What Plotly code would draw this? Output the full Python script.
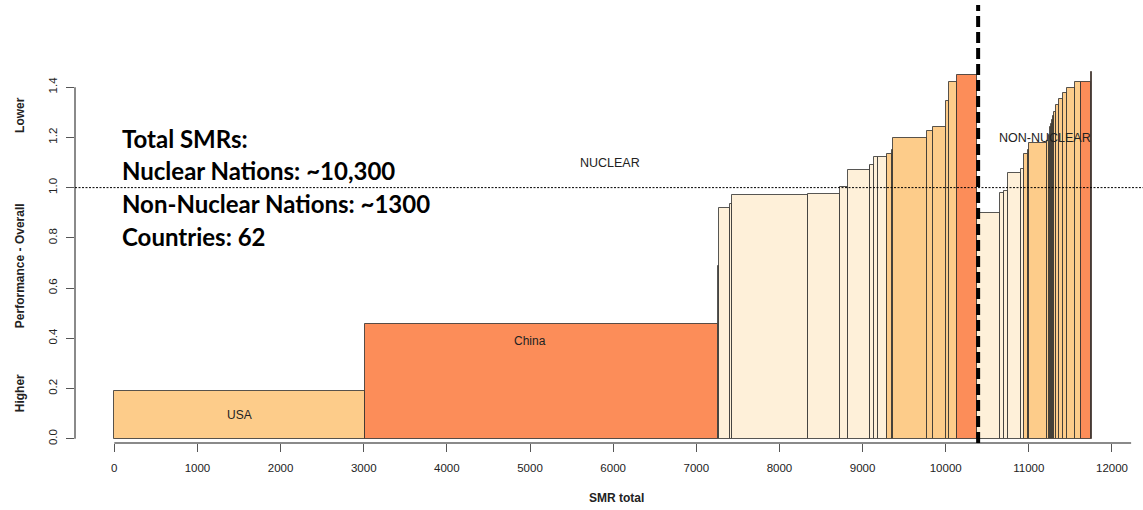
import numpy as np
import plotly.graph_objects as go

# ---------------- data ----------------
# SMR counts per country (bar widths) and overall performance (bar heights)
nuclear_smr = [3015, 4243, 12, 139, 24, 907, 389, 100, 257, 5, 50, 49, 100,
               68, 5, 408, 80, 153, 36, 96, 237]
nuclear_perf = [0.19, 0.459, 0.686, 0.92, 0.934, 0.970, 0.973, 1.002, 1.071,
                1.085, 1.092, 1.120, 1.123, 1.135, 1.150, 1.197, 1.226, 1.241,
                1.346, 1.419, 1.447]
nuclear_cls = [1, 2, 0, 0, 0, 0, 0, 0, 0, 0, 0, 0, 0,
               1, 1, 1, 1, 1, 1, 1, 2]

nonnuclear_smr = [280, 52, 48, 153, 39, 49, 5, 216, 31, 4, 20, 4, 20, 4, 29,
                  40, 48, 48, 92, 69, 124, 14]
nonnuclear_perf = [0.90, 0.977, 0.986, 1.057, 1.073, 1.132, 1.150, 1.176,
                   1.185, 1.21, 1.24, 1.255, 1.27, 1.285, 1.30, 1.329, 1.351,
                   1.375, 1.395, 1.421, 1.421, 1.459]
nonnuclear_cls = [0, 0, 0, 0, 0, 1, 1, 1, 1, 1, 1, 1, 1, 1, 1, 1, 1, 1, 1, 1,
                  2, 2]

bar_labels = ["USA", "China"]
x_ticks = [0, 1000, 2000, 3000, 4000, 5000, 6000, 7000, 8000, 9000, 10000,
           11000, 12000]
y_ticks = [0.0, 0.2, 0.4, 0.6, 0.8, 1.0, 1.2, 1.4]
y_tick_text = ["0.0", "0.2", "0.4", "0.6", "0.8", "1.0", "1.2", "1.4"]
info_lines = ["Total SMRs:", "Nuclear Nations: ~10,300",
              "Non-Nuclear Nations: ~1300", "Countries: 62"]
threshold = 1.0

palette = ["#FEF0D9", "#FDCC8A", "#FC8D59"]

# ---------------- geometry from data ----------------
widths = np.array(nuclear_smr + nonnuclear_smr, dtype=float)
heights = np.array(nuclear_perf + nonnuclear_perf)
classes = nuclear_cls + nonnuclear_cls
right = np.cumsum(widths)
left = right - widths
centers = left + widths / 2
nuclear_total = float(np.sum(nuclear_smr))

fig = go.Figure()
fig.add_trace(go.Bar(
    x=centers, y=heights, width=widths, base=0,
    marker=dict(color=[palette[c] for c in classes],
                line=dict(color="rgba(45,45,45,0.8)", width=1)),
    hoverinfo="x+y", showlegend=False,
))

# ranges (R-like plot region)
x_range = [-473, 12373]
y_range = [-0.0167, 1.727]

TXT = "#222222"
font_r = "Liberation Sans, Arial, sans-serif"

fig.update_layout(
    width=1143, height=510,
    margin=dict(l=75, r=0, t=5, b=67),
    paper_bgcolor="white", plot_bgcolor="white",
    bargap=0,
    xaxis=dict(range=x_range, showgrid=False, zeroline=False, showline=False,
               tickmode="array", tickvals=x_ticks,
               ticktext=[str(t) for t in x_ticks],
               ticks="outside", ticklen=8, tickwidth=1, tickcolor="#555555",
               ticklabelstandoff=6,
               tickfont=dict(family=font_r, size=11.5, color=TXT)),
    yaxis=dict(range=y_range, showgrid=False, zeroline=False, showline=False,
               tickmode="array", tickvals=y_ticks, ticktext=y_tick_text,
               ticks="outside", ticklen=8, tickwidth=1, tickcolor="#555555",
               tickangle=-90, ticklabelstandoff=4,
               tickfont=dict(family=font_r, size=11.5, color=TXT)),
)

shapes = []
# axis lines (R style: only spanning the ticks)
shapes.append(dict(type="line", xref="x", yref="paper", x0=x_ticks[0],
                   x1=12230, y0=0, y1=0,
                   line=dict(color="#8a8a8a", width=2), layer="above"))
shapes.append(dict(type="line", xref="paper", yref="y", x0=0, x1=0,
                   y0=y_ticks[0], y1=y_ticks[-1],
                   line=dict(color="#8a8a8a", width=2), layer="above"))
# threshold dotted line
shapes.append(dict(type="line", xref="paper", yref="y", x0=0, x1=1,
                   y0=threshold, y1=threshold,
                   line=dict(color="black", width=1, dash="2px,1.5px"),
                   layer="above"))
# nuclear / non-nuclear divider
shapes.append(dict(type="line", xref="x", yref="paper",
                   x0=nuclear_total + 17, x1=nuclear_total + 17, y0=0, y1=1,
                   line=dict(color="black", width=4, dash="11px,5px"),
                   layer="above"))
fig.update_layout(shapes=shapes)

ann = []
# bar labels
ann.append(dict(x=1500, y=0.094, xref="x", yref="y", text=bar_labels[0],
                showarrow=False, font=dict(family=font_r, size=12, color=TXT)))
ann.append(dict(x=5000, y=0.39, xref="x", yref="y", text=bar_labels[1],
                showarrow=False, font=dict(family=font_r, size=12, color=TXT)))
ann.append(dict(x=5960, y=1.098, xref="x", yref="y", text="NUCLEAR",
                showarrow=False, font=dict(family=font_r, size=12.5, color=TXT)))
ann.append(dict(x=11194, y=1.197, xref="x", yref="y", text="NON-NUCLEAR",
                showarrow=False, font=dict(family=font_r, size=12.5, color=TXT)))
# info block
info_y = [1.197, 1.070, 0.938, 0.807]
for txt, yy in zip(info_lines, info_y):
    ann.append(dict(x=69, y=yy, xref="x", yref="y", text="<b>%s</b>" % txt,
                    xanchor="left", yanchor="middle", showarrow=False,
                    font=dict(family="Lato, Open Sans, sans-serif", size=24,
                              color="black")))
# axis titles
ann.append(dict(x=6046, y=-0.147, xref="x", yref="paper",
                text="<b>SMR total</b>", showarrow=False,
                font=dict(family=font_r, size=12, color=TXT)))
for txt, yy in [("Higher", 0.181), ("Performance - Overall", 0.691),
                ("Lower", 1.289)]:
    ann.append(dict(x=-0.06, y=yy, xref="paper", yref="y",
                    text="<b>%s</b>" % txt, textangle=-90, showarrow=False,
                    font=dict(family=font_r, size=12, color=TXT)))
fig.update_layout(annotations=ann)

fig.write_html("out.html", config={"displayModeBar": False},
               post_script="document.body.style.margin='0';")
